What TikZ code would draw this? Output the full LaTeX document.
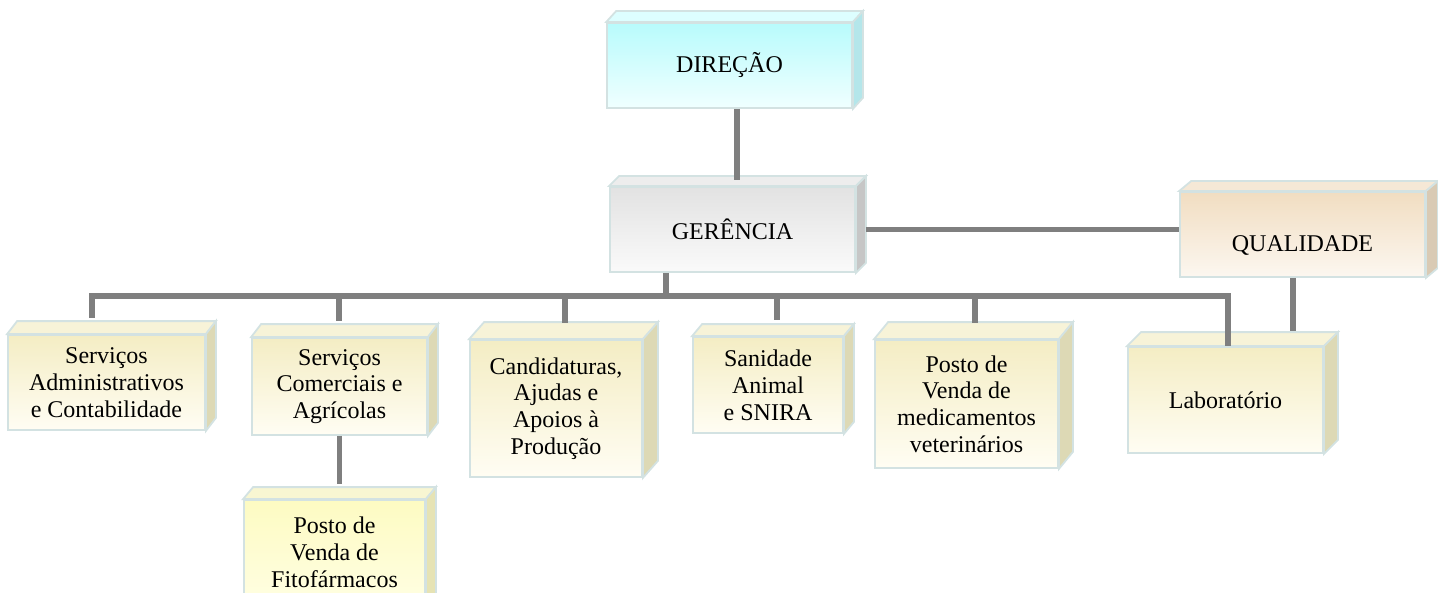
\documentclass[tikz,border=0pt]{standalone}
\usepackage{fontspec}
\setmainfont{Liberation Serif}
\usetikzlibrary{positioning}

\definecolor{rim}{HTML}{D3E2E2}
\definecolor{wire}{HTML}{7F7F7F}
\definecolor{cyanhi}{HTML}{B8FBFC}
\definecolor{cyanlo}{HTML}{F0FFFF}
\definecolor{cyantop}{HTML}{DDFEFF}
\definecolor{cyanside}{HTML}{B4E6EA}
\definecolor{greyhi}{HTML}{E2E2E2}
\definecolor{greylo}{HTML}{FAFAFA}
\definecolor{greytop}{HTML}{EDEDED}
\definecolor{greyside}{HTML}{C6C6C6}
\definecolor{peachhi}{HTML}{F1DDC1}
\definecolor{peachlo}{HTML}{FCF7F0}
\definecolor{peachtop}{HTML}{F5E8D6}
\definecolor{peachside}{HTML}{D9CAB4}
\definecolor{yellowhi}{HTML}{F4EDC4}
\definecolor{yellowlo}{HTML}{FFFDF3}
\definecolor{yellowtop}{HTML}{F7F3D8}
\definecolor{yellowside}{HTML}{DDD9B5}
\definecolor{fitohi}{HTML}{FDFBC2}
\definecolor{fitolo}{HTML}{FFFEE2}
\definecolor{fitotop}{HTML}{F8F6D2}
\definecolor{fitoside}{HTML}{E6E3B4}

\tikzset{
  cube/.style={draw=rim, line width=0.9pt, inner sep=2pt, align=center,
    font=\fontsize{12}{13.4}\selectfont},
  cyanbox/.style={cube, top color=cyanhi, bottom color=cyanlo},
  greybox/.style={cube, top color=greyhi, bottom color=greylo},
  peachbox/.style={cube, top color=peachhi, bottom color=peachlo},
  yellowbox/.style={cube, top color=yellowhi, bottom color=yellowlo},
  fitobox/.style={cube, top color=fitohi, bottom color=fitolo},
  link/.style={draw=wire, line width=2.8pt, line cap=rect},
  drop/.style={link, line cap=butt, shorten >=8pt}
}

\begin{document}
\begin{tikzpicture}[x=0.5pt, y=-0.5pt]
  \useasboundingbox (0,0) rectangle (1438,593);

  % boxes
  \node[cyanbox, minimum width=122.5pt, minimum height=42.5pt] (dir) at (729.5,65.5) {DIREÇÃO};
  \node[greybox, minimum width=122.5pt, minimum height=42.5pt] (ger) at (732.5,229.5) {GERÊNCIA};
  \node[peachbox, minimum width=122.5pt, minimum height=42.5pt, text height=19pt] (qual) at (1302.5,234.5) {QUALIDADE};
  \node[yellowbox, minimum width=98.5pt, minimum height=47.5pt] (admin) at (106.5,382.5) {Serviços\\Administrativos\\e Contabilidade};
  \node[yellowbox, minimum width=87.5pt, minimum height=48.5pt] (comerc) at (339.5,386.5) {Serviços\\Comerciais e\\Agrícolas};
  \node[fitobox, minimum width=90.5pt, minimum height=52pt] (fito) at (334.5,552) {Posto de\\Venda de\\Fitofármacos};
  \node[yellowbox, minimum width=86pt, minimum height=68.5pt] (cand) at (556,408.5) {Candidaturas,\\Ajudas e\\Apoios à\\Produção};
  \node[yellowbox, minimum width=75pt, minimum height=48pt] (sanid) at (768,385) {Sanidade\\Animal\\e SNIRA};
  \node[yellowbox, minimum width=91.5pt, minimum height=64pt] (posto) at (966.5,404) {Posto de\\Venda de\\medicamentos\\veterinários};
  \node[yellowbox, minimum width=97.5pt, minimum height=53pt] (lab) at (1225.5,400) {Laboratório};

  % top and side faces
  \foreach \n/\dx/\dy/\t/\s in {dir/10/11/cyantop/cyanside, ger/10/10/greytop/greyside,
      qual/12/10/peachtop/peachside, admin/10/13/yellowtop/yellowside,
      comerc/10/13/yellowtop/yellowside, fito/10/12/fitotop/fitoside,
      cand/15/17/yellowtop/yellowside, sanid/10/12/yellowtop/yellowside,
      posto/14/17/yellowtop/yellowside, lab/14/14/yellowtop/yellowside}{
    \draw[rim, line width=0.9pt, fill=\t] (\n.north west) -- ++(\dx,-\dy)
      -- ([shift={(\dx,-\dy)}]\n.north east) -- (\n.north east) -- cycle;
    \draw[rim, line width=0.9pt, fill=\s] (\n.north east) -- ++(\dx,-\dy)
      -- ([shift={(\dx,-\dy)}]\n.south east) -- (\n.south east) -- cycle;
  }

  % junctions on the bus
  \coordinate (jg) at (666,296);
  \coordinate (j1) at (92,296);
  \coordinate (j2) at (339,296);
  \coordinate (j3) at (565,296);
  \coordinate (j4) at (777,296);
  \coordinate (j5) at (975,296);
  \coordinate (j6) at (1228,296);

  % connectors
  \draw[link, line cap=butt] ([xshift=3.75pt]dir.south) -- ([xshift=3.75pt, yshift=3pt]dir.south |- ger.north);
  \draw[link, line cap=butt] ([xshift=5pt]ger.east) -- (ger.east -| qual.west);
  \draw[link, line cap=butt] (jg |- ger.south) -- (jg);
  \draw[link] (j1) -- (j6);
  \draw[drop] (j1) -- (j1 |- admin.north);
  \draw[drop] (j2) -- (j2 |- comerc.north);
  \draw[drop] (j3) -- (j3 |- cand.north);
  \draw[drop] (j4) -- (j4 |- sanid.north);
  \draw[drop] (j5) -- (j5 |- posto.north);
  \draw[link, line cap=butt] (j6) -- (j6 |- lab.north);
  \draw[drop, shorten >=7.5pt] ([xshift=-4.75pt]qual.south) -- ([xshift=-4.75pt]qual.south |- lab.north);
  \draw[drop, shorten >=7.5pt] (comerc.south) -- (comerc.south |- fito.north);
\end{tikzpicture}
\end{document}
